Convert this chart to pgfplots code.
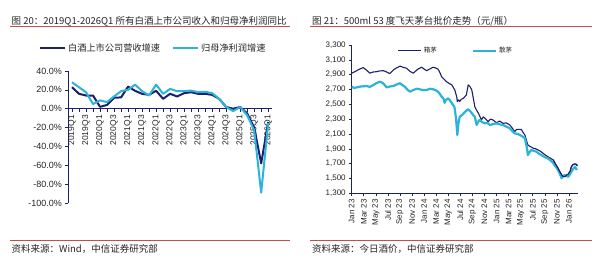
\documentclass[border=0pt]{standalone}
\usepackage{pgfplots}
\pgfplotsset{compat=1.18}
\usepackage{fontspec}
\setmainfont{Liberation Sans}
\newfontfamily\cjk{Noto Sans CJK SC}
\definecolor{navyA}{HTML}{1B1F6E}
\definecolor{cyanA}{HTML}{2BB3D8}
\definecolor{redL}{HTML}{C0504D}
\definecolor{txt}{HTML}{262626}
\newcommand{\fs}[1]{\fontsize{#1}{#1}\selectfont}
\begin{document}
\begin{tikzpicture}
\begin{scope}[x=1bp,y=1bp]
\fill[white] (0,0) rectangle (600,260);
\useasboundingbox (0,0) rectangle (600,260);
\node[anchor=base west, inner sep=0, text=txt] at (11.5,235.5) {\cjk\fs{9.5bp}图 20：2019Q1-2026Q1 所有白酒上市公司收入和归母净利润同比};
\node[anchor=base west, inner sep=0, text=txt] at (312,235.5) {\cjk\fs{9.5bp}图 21：500ml 53 度飞天茅台批价走势（元/瓶）};
\draw[redL, line width=1bp] (10,233.3) -- (290,233.3);
\draw[redL, line width=1bp] (310,233.3) -- (592,233.3);
\draw[redL, line width=1bp] (10,20) -- (290,20);
\draw[redL, line width=1bp] (310,20) -- (592,20);
\node[anchor=base west, inner sep=0, text=txt] at (11.5,8) {\cjk\fs{9.5bp}资料来源：Wind，中信证券研究部};
\node[anchor=base west, inner sep=0, text=txt] at (312,8) {\cjk\fs{9.5bp}资料来源：今日酒价，中信证券研究部};
\end{scope}

\begin{axis}[at={(68.3bp,57bp)}, anchor=south west, scale only axis,
  width=203.4bp, height=132bp,
  xmin=-0.53, xmax=28.5, ymin=-100, ymax=40,
  axis x line*=middle, axis y line*=left,
  hide obscured y ticks=false,
  axis line style={navyA, line width=0.8bp},
  tick style={navyA, line width=0.6bp},
  major tick length=3bp, minor tick length=3bp,
  tick align=outside,
  /pgf/number format/assume math mode=true,
  ytick={-100,-80,...,40},
  yticklabel={\pgfmathprintnumber[fixed,fixed zerofill,precision=1]{\tick}\%},
  yticklabel style={font=\fs{9bp}, text=txt},
  xtick={0,2,...,28},
  xticklabels={2019Q1,2019Q3,2020Q1,2020Q3,2021Q1,2021Q3,2022Q1,2022Q3,2023Q1,2023Q3,2024Q1,2024Q3,2025Q1,2025Q3,2026Q1},
  minor xtick={1,3,...,27},
  xticklabel style={rotate=90, anchor=east, font=\fs{8.5bp}, text=txt},
  clip=false,
  legend style={at={(0.418,1.172)}, anchor=center, draw=none, fill=none,
    font=\cjk\fs{9.2bp}, text=txt, inner sep=0pt,
    /tikz/every even column/.append style={column sep=10bp}},
  legend columns=2,
  legend image code/.code={\draw[#1] (0bp,0bp) -- (25bp,0bp);},
]
\addplot[navyA, line width=2bp, line join=round] coordinates {
(0,22.8)(1,15.8)(2,14)(3,14)(4,2)(5,4)(6,11.6)(7,12)(8,23.5)(9,19)(10,15.8)(11,14.7)(12,19)(13,10.5)(14,15.8)(15,13)(16,16.5)(17,17.5)(18,15.8)(19,15.8)(20,14.7)(21,10.5)(22,1.8)(23,0)(24,1.8)(25,-5)(26,-20)(27,-58)(28,-14)};
\addlegendentry{白酒上市公司营收增速}
\addplot[cyanA, line width=2bp, line join=round] coordinates {
(0,28)(1,22.8)(2,17.5)(3,5)(4,8.8)(5,7)(6,13)(7,18.6)(8,20)(9,25.6)(10,18.6)(11,14)(12,25.6)(13,15.8)(14,21)(15,18.6)(16,18.6)(17,19.3)(18,17.5)(19,18)(20,16.5)(21,10.5)(22,1.8)(23,-2.5)(24,1.8)(25,-7)(26,-23)(27,-89)(28,-15)};
\addlegendentry{归母净利润增速}
\end{axis}

\begin{axis}[at={(351.7bp,66.7bp)}, anchor=south west, scale only axis,
  width=226.3bp, height=148.3bp,
  xmin=0, xmax=37.5, ymin=1300, ymax=3300,
  axis x line*=bottom, axis y line*=left,
  axis line style={navyA, line width=0.8bp},
  tick style={navyA, line width=0.6bp},
  major tick length=2.5bp,
  tick align=outside,
  /pgf/number format/assume math mode=true,
  /pgf/number format/1000 sep={,},
  ytick={1300,1500,...,3300},
  yticklabel style={font=\fs{8bp}, text=txt},
  xtick={0,2,...,36},
  xticklabels={Jan 23,Mar 23,May 23,Jul 23,Sep 23,Nov 23,Jan 24,Mar 24,May 24,Jul 24,Sep 24,Nov 24,Jan 25,Mar 25,May 25,Jul 25,Sep 25,Nov 25,Jan 26},
  xticklabel style={rotate=90, anchor=east, font=\fs{8bp}, text=txt},
  legend style={at={(0.461,0.9616)}, anchor=center, draw=none, fill=none,
    font=\cjk\fs{6.5bp}, text=txt, inner sep=0pt,
    /tikz/every even column/.append style={column sep=33bp}},
  legend columns=2,
  legend image code/.code={\draw[#1] (0bp,0bp) -- (23bp,0bp);},
]
\addplot[navyA, line width=1.1bp, line join=round] coordinates {
(0,2920)(0.4,2935)(0.83,2954)(1.3,2975)(1.9,2995)(2.4,2965)(3.0,2920)(3.5,2935)(4.1,2940)(4.6,2950)(5.2,2954)(5.7,2940)(6.3,2915)(6.9,2963)(7.4,2990)(8.0,3015)(8.5,3000)(9.1,2986)(9.65,2945)(10.2,2920)(10.8,2963)(11.2,2985)(11.6,3000)(12.0,2975)(12.4,2954)(12.9,2975)(13.5,3000)(13.9,2990)(14.3,2975)(14.6,2930)(14.9,2873)(15.3,2840)(15.7,2805)(16.2,2780)(16.6,2761)(17.1,2690)(17.4,2600)(17.5,2536)(17.7,2560)(17.9,2540)(18.2,2570)(18.5,2581)(19.0,2626)(19.3,2761)(19.6,2740)(19.9,2693)(20.2,2560)(20.4,2468)(20.7,2420)(21.0,2379)(21.5,2290)(21.8,2330)(22.1,2312)(22.6,2266)(23.0,2300)(23.4,2289)(23.7,2270)(24.0,2252)(24.5,2275)(25.1,2243)(25.6,2250)(26.2,2221)(26.6,2180)(27.0,2131)(27.3,2160)(27.6,2163)(28.1,2163)(28.4,2120)(28.7,2086)(29.0,2000)(29.2,1951)(29.6,1930)(30.1,1907)(30.5,1900)(30.9,1884)(31.3,1865)(31.7,1840)(32.1,1815)(32.5,1794)(33.0,1770)(33.4,1749)(33.8,1690)(34.2,1637)(34.5,1590)(34.8,1547)(35.0,1530)(35.3,1524)(35.6,1545)(35.9,1560)(36.2,1600)(36.4,1659)(36.7,1690)(37.0,1695)(37.2,1690)(37.4,1672)};
\addlegendentry{箱茅}
\addplot[cyanA, line width=2.2bp, line join=round] coordinates {
(0,2738)(0.4,2720)(0.83,2729)(1.5,2740)(2.5,2747)(3.0,2735)(3.6,2761)(4.2,2790)(4.7,2805)(5.2,2784)(5.8,2729)(6.3,2740)(6.9,2747)(7.5,2770)(8.0,2784)(8.4,2760)(8.8,2738)(9.2,2700)(9.65,2671)(10.2,2693)(10.8,2710)(11.3,2702)(11.9,2690)(12.4,2693)(13.0,2710)(13.5,2702)(13.9,2690)(14.3,2671)(14.6,2640)(14.9,2603)(15.2,2580)(15.4,2520)(15.6,2558)(16.0,2581)(16.3,2550)(16.6,2514)(17.0,2470)(17.1,2424)(17.3,2300)(17.5,2086)(17.7,2250)(17.9,2333)(18.3,2356)(18.8,2400)(19.3,2433)(19.6,2410)(19.9,2379)(20.2,2350)(20.4,2333)(20.7,2221)(21.0,2270)(21.2,2289)(21.6,2260)(22.1,2243)(22.5,2250)(22.9,2221)(23.5,2235)(24.0,2243)(24.5,2230)(25.1,2221)(25.6,2200)(26.2,2177)(26.6,2140)(27.0,2109)(27.5,2100)(27.9,2086)(28.3,2065)(28.7,2042)(29.0,1930)(29.2,1817)(29.5,1860)(29.8,1884)(30.2,1870)(30.6,1862)(31.1,1830)(31.7,1803)(32.1,1785)(32.5,1772)(33.0,1740)(33.4,1705)(33.8,1660)(34.2,1614)(34.5,1560)(34.8,1502)(35.0,1530)(35.3,1547)(35.6,1530)(35.9,1524)(36.2,1560)(36.4,1591)(36.7,1630)(37.0,1659)(37.3,1614)};
\addlegendentry{散茅}
\addplot[navyA, line width=1.1bp, line join=round, forget plot] coordinates {
(33.4,1749)(33.8,1690)(34.2,1637)(34.5,1590)(34.8,1547)(35.0,1530)(35.3,1524)(35.6,1545)(35.9,1560)(36.2,1600)(36.4,1659)(36.7,1690)(37.0,1695)(37.2,1690)(37.4,1672)};
\end{axis}
\end{tikzpicture}
\end{document}
